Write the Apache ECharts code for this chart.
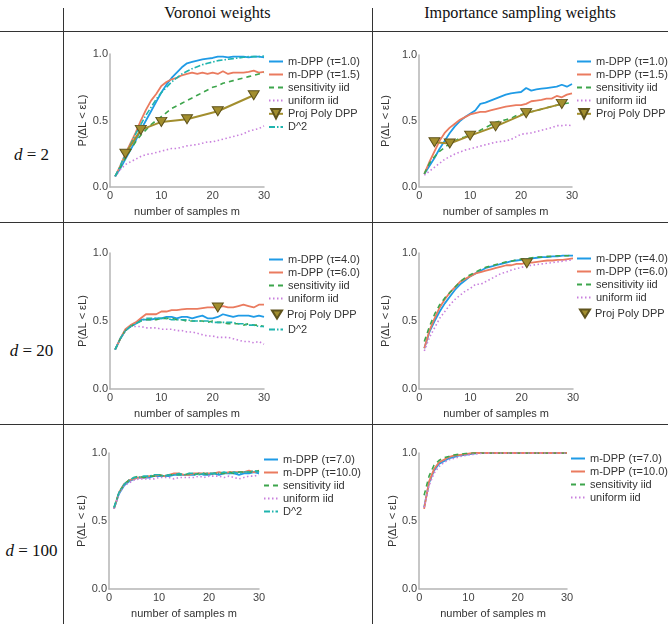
<!DOCTYPE html>
<html>
<head>
<meta charset="utf-8">
<script src="https://cdn.jsdelivr.net/npm/echarts@6/dist/echarts.min.js"></script>
<style>
  body { margin: 0; background: #fff; }
  #page { position: relative; width: 668px; height: 624px; font-family: 'Liberation Serif', serif; color: #111; }
  .hline { position: absolute; left: 0; width: 668px; height: 1px; background: #333; }
  .vline { position: absolute; top: 8px; width: 1px; height: 616px; background: #333; }
  .head { position: absolute; top: 4px; font-size: 16.2px; text-align: center; }
  .dlab { position: absolute; left: 0; width: 63px; text-align: center; font-size: 17px; }
  .chart { position: absolute; }
</style>
</head>
<body>
<div id="page">
  <div class="head" style="left:63px;width:309px">Voronoi weights</div>
  <div class="head" style="left:372px;width:296px">Importance sampling weights</div>
  <div class="hline" style="top:31px"></div>
  <div class="hline" style="top:222px"></div>
  <div class="hline" style="top:424px"></div>
  <div class="vline" style="left:63px"></div>
  <div class="vline" style="left:372px"></div>
  <div class="dlab" style="top:145px"><i>d</i> = 2</div>
  <div class="dlab" style="top:341px"><i>d</i> = 20</div>
  <div class="dlab" style="top:541px"><i>d</i> = 100</div>

  <div class="chart" id="vor2" style="left:63px;top:32px;width:309px;height:190px"></div>
  <div class="chart" id="is2" style="left:372px;top:32px;width:296px;height:190px"></div>
  <div class="chart" id="vor20" style="left:63px;top:222px;width:309px;height:202px"></div>
  <div class="chart" id="is20" style="left:372px;top:222px;width:296px;height:202px"></div>
  <div class="chart" id="vor100" style="left:63px;top:424px;width:309px;height:200px"></div>
  <div class="chart" id="is100" style="left:372px;top:424px;width:296px;height:200px"></div>
</div>

<script>
// number of samples m, shared by every curve
const samples = [1,2,3,4,5,6,7,8,9,10,11,12,13,14,15,16,17,18,19,20,21,22,23,24,25,26,27,28,29,30];
const projSamples = [3, 6, 10, 15, 21, 28];
const yTicks = ['0.0', '0.5', '1.0'];

// d = 2, Voronoi weights
const vor2Tau1 = [0.08,0.14,0.21,0.28,0.35,0.43,0.50,0.57,0.64,0.71,0.77,0.82,0.86,0.90,0.93,0.94,0.95,0.96,0.965,0.97,0.98,0.98,0.975,0.98,0.98,0.98,0.975,0.98,0.98,0.975];
const vor2Tau15 = [0.08,0.16,0.25,0.33,0.41,0.50,0.58,0.65,0.70,0.76,0.79,0.81,0.82,0.84,0.85,0.86,0.85,0.86,0.85,0.86,0.85,0.87,0.85,0.86,0.86,0.86,0.865,0.875,0.86,0.865];
const vor2Sens = [0.08,0.15,0.22,0.28,0.34,0.39,0.43,0.47,0.50,0.53,0.56,0.59,0.61,0.63,0.65,0.67,0.69,0.71,0.73,0.75,0.76,0.78,0.79,0.80,0.81,0.82,0.83,0.84,0.85,0.86];
const vor2Unif = [0.08,0.13,0.17,0.19,0.21,0.23,0.245,0.25,0.26,0.27,0.28,0.29,0.29,0.30,0.31,0.315,0.32,0.33,0.34,0.34,0.35,0.36,0.37,0.38,0.39,0.40,0.42,0.43,0.44,0.46];
const vor2Proj = [0.25,0.43,0.49,0.51,0.57,0.69];
const vor2D2 = [0.08,0.16,0.25,0.32,0.40,0.47,0.54,0.60,0.66,0.71,0.75,0.79,0.82,0.85,0.87,0.89,0.905,0.92,0.93,0.94,0.95,0.955,0.96,0.965,0.97,0.975,0.98,0.98,0.98,0.985];

// d = 2, importance sampling weights
const is2Tau1 = [0.10,0.16,0.22,0.29,0.35,0.41,0.46,0.50,0.53,0.555,0.58,0.63,0.64,0.655,0.67,0.685,0.70,0.71,0.715,0.72,0.75,0.73,0.74,0.745,0.75,0.755,0.76,0.775,0.76,0.78];
const is2Tau15 = [0.10,0.19,0.27,0.35,0.41,0.45,0.48,0.51,0.53,0.55,0.56,0.57,0.57,0.58,0.59,0.60,0.61,0.615,0.62,0.62,0.63,0.65,0.655,0.66,0.67,0.67,0.69,0.68,0.70,0.71];
const is2Sens = [0.10,0.18,0.23,0.27,0.30,0.33,0.35,0.37,0.38,0.40,0.41,0.43,0.45,0.47,0.49,0.50,0.51,0.52,0.54,0.55,0.56,0.57,0.58,0.59,0.60,0.61,0.62,0.63,0.635,0.64];
const is2Unif = [0.09,0.12,0.15,0.18,0.21,0.23,0.25,0.265,0.28,0.29,0.30,0.31,0.32,0.33,0.34,0.345,0.35,0.36,0.38,0.40,0.405,0.41,0.42,0.43,0.44,0.45,0.465,0.465,0.47,0.465];
const is2Proj = [0.34,0.33,0.39,0.46,0.56,0.63];

// d = 20, Voronoi weights
const vor20Tau4 = [0.29,0.37,0.43,0.46,0.48,0.51,0.51,0.51,0.52,0.52,0.53,0.53,0.52,0.53,0.53,0.52,0.53,0.54,0.52,0.52,0.53,0.55,0.54,0.53,0.54,0.54,0.54,0.53,0.54,0.53];
const vor20Tau6 = [0.29,0.37,0.44,0.47,0.49,0.52,0.55,0.55,0.55,0.57,0.57,0.58,0.58,0.585,0.59,0.59,0.59,0.595,0.60,0.60,0.60,0.61,0.60,0.60,0.61,0.62,0.61,0.60,0.62,0.62];
const vor20Sens = [0.29,0.37,0.43,0.46,0.48,0.50,0.51,0.51,0.51,0.52,0.52,0.52,0.51,0.51,0.50,0.50,0.50,0.50,0.49,0.50,0.49,0.49,0.48,0.48,0.48,0.47,0.48,0.47,0.47,0.46];
const vor20Unif = [0.29,0.37,0.43,0.46,0.46,0.46,0.45,0.45,0.45,0.44,0.44,0.44,0.43,0.43,0.42,0.42,0.41,0.40,0.39,0.39,0.38,0.38,0.38,0.37,0.36,0.35,0.35,0.34,0.35,0.33];
const vor20Proj = [[21, 0.60]];
const vor20D2 = [0.29,0.37,0.43,0.46,0.48,0.50,0.52,0.52,0.52,0.52,0.52,0.51,0.51,0.51,0.51,0.50,0.50,0.50,0.50,0.49,0.49,0.49,0.49,0.49,0.48,0.48,0.47,0.47,0.46,0.46];

// d = 20, importance sampling weights
const is20Tau4 = [0.30,0.42,0.50,0.57,0.63,0.68,0.73,0.77,0.80,0.83,0.85,0.87,0.89,0.90,0.91,0.92,0.93,0.94,0.945,0.95,0.955,0.96,0.965,0.97,0.97,0.975,0.975,0.98,0.98,0.98];
const is20Tau6 = [0.30,0.43,0.52,0.60,0.66,0.71,0.75,0.79,0.81,0.83,0.85,0.86,0.87,0.88,0.89,0.90,0.91,0.91,0.92,0.92,0.93,0.93,0.935,0.94,0.945,0.945,0.95,0.95,0.955,0.96];
const is20Sens = [0.35,0.46,0.55,0.62,0.67,0.71,0.75,0.79,0.82,0.84,0.86,0.88,0.895,0.905,0.915,0.925,0.935,0.94,0.95,0.955,0.96,0.965,0.97,0.97,0.975,0.975,0.98,0.98,0.98,0.985];
const is20Unif = [0.28,0.38,0.45,0.52,0.57,0.62,0.66,0.69,0.72,0.74,0.77,0.77,0.79,0.81,0.83,0.85,0.86,0.875,0.885,0.895,0.905,0.91,0.915,0.92,0.925,0.93,0.935,0.94,0.945,0.95];
const is20Proj = [[21, 0.925]];

// d = 100, Voronoi weights
const vor100Tau7 = [0.59,0.70,0.76,0.79,0.81,0.82,0.82,0.82,0.83,0.83,0.83,0.83,0.84,0.84,0.84,0.84,0.84,0.85,0.84,0.84,0.85,0.84,0.85,0.85,0.85,0.84,0.85,0.85,0.86,0.85];
const vor100Tau10 = [0.59,0.71,0.77,0.80,0.81,0.82,0.82,0.83,0.83,0.84,0.83,0.84,0.85,0.85,0.84,0.84,0.85,0.85,0.85,0.85,0.85,0.86,0.85,0.86,0.86,0.86,0.86,0.87,0.86,0.87];
const vor100Sens = [0.60,0.71,0.77,0.80,0.82,0.83,0.82,0.83,0.83,0.84,0.83,0.84,0.84,0.84,0.84,0.85,0.84,0.85,0.85,0.84,0.85,0.85,0.85,0.86,0.85,0.86,0.86,0.86,0.86,0.87];
const vor100Unif = [0.59,0.70,0.76,0.78,0.80,0.81,0.81,0.81,0.81,0.82,0.82,0.82,0.81,0.82,0.82,0.82,0.82,0.83,0.82,0.83,0.83,0.83,0.82,0.83,0.82,0.81,0.82,0.83,0.83,0.84];
const vor100D2 = [0.60,0.71,0.77,0.80,0.82,0.82,0.83,0.83,0.84,0.84,0.83,0.84,0.84,0.85,0.84,0.85,0.85,0.84,0.85,0.85,0.85,0.85,0.86,0.85,0.86,0.85,0.86,0.86,0.87,0.86];

// d = 100, importance sampling weights
const is100Tau7 = [0.60,0.78,0.87,0.92,0.94,0.96,0.97,0.98,0.985,0.99,0.995,1,1,1,1,1,1,1,1,1,1,1,1,1,1,1,1,1,1,1];
const is100Tau10 = [0.59,0.79,0.88,0.93,0.95,0.97,0.98,0.985,0.99,0.995,1,1,1,1,1,1,1,1,1,1,1,1,1,1,1,1,1,1,1,1];
const is100Sens = [0.69,0.83,0.91,0.945,0.965,0.975,0.985,0.99,0.995,1,1,1,1,1,1,1,1,1,1,1,1,1,1,1,1,1,1,1,1,1];
const is100Unif = [0.60,0.76,0.85,0.90,0.93,0.95,0.96,0.97,0.98,0.985,0.99,0.995,1,1,1,1,1,1,1,1,1,1,1,1,1,1,1,1,1,1];

const tri = 'path://M0,0L10,0L5,8Z';

const styles = {
  tauA: { color: '#1f9be6', lineStyle: { width: 1.8 } },
  tauB: { color: '#ea7b5f', lineStyle: { width: 1.8 } },
  sens: { color: '#3da54c', lineStyle: { width: 1.6, type: [5, 4] } },
  unif: { color: '#c980dd', lineStyle: { width: 1.6, type: [1.5, 2.5] } },
  d2: { color: '#1fb4ae', lineStyle: { width: 1.6, type: [6, 2, 1.5, 2] } },
  proj: { color: '#a28e2e', lineStyle: { width: 2 } }
};

function curve(name, values, style, xs) {
  xs = xs || samples;
  return {
    name: name,
    type: 'line',
    data: xs.map((m, i) => [m, values[i]]),
    showSymbol: false,
    symbol: 'circle',
    color: style.color,
    lineStyle: Object.assign({ color: style.color }, style.lineStyle),
    z: 2
  };
}

function projLine(values) {
  const s = curve('Proj Poly DPP', values, styles.proj, projSamples);
  s.showSymbol = true;
  s.symbol = tri;
  s.symbolSize = [11, 9];
  s.itemStyle = { color: styles.proj.color, borderColor: '#5f531c', borderWidth: 1 };
  s.z = 3;
  return s;
}

function projPoint(points) {
  return {
    name: 'Proj Poly DPP',
    type: 'scatter',
    data: points,
    symbol: tri,
    symbolSize: [11, 9],
    itemStyle: { color: styles.proj.color, borderColor: '#5f531c', borderWidth: 1, opacity: 1 },
    z: 3
  };
}

const ROW = 14; // legend row pitch

function legendBlock(names, left, top, small) {
  return {
    orient: 'vertical',
    left: left, top: top,
    itemWidth: small ? 10 : 14, itemHeight: small ? 8 : 12, itemGap: 2,
    padding: 0,
    itemStyle: { opacity: small ? 1 : 0 },
    textStyle: { color: '#333', fontSize: 11, fontFamily: 'Liberation Sans' },
    data: names.map(n => n === 'Proj Poly DPP' ? { name: n, itemStyle: { opacity: 1 } } : n)
  };
}

function buildLegends(series, left, top) {
  // a lone scatter marker gets its own small legend so its icon is not stretched
  const legends = [];
  let group = [], start = 0;
  series.forEach((s, i) => {
    if (s.type === 'scatter') {
      if (group.length) legends.push(legendBlock(group, left, top + start * ROW));
      legends.push(legendBlock([s.name], left + 3, top + i * ROW - 1, true));
      group = []; start = i + 1;
    } else {
      group.push(s.name);
    }
  });
  if (group.length) legends.push(legendBlock(group, left, top + start * ROW));
  return legends;
}

function panel(id, grid, legendPos, series) {
  const chart = echarts.init(document.getElementById(id));
  const axisText = { color: '#444', fontSize: 11, fontFamily: 'Liberation Sans' };
  chart.setOption({
    animation: false,
    grid: Object.assign({ containLabel: false }, grid),
    xAxis: {
      type: 'value', min: 0, max: 30, interval: 10,
      name: 'number of samples m', nameLocation: 'middle', nameGap: 18,
      nameTextStyle: { color: '#333', fontSize: 11, fontFamily: 'Liberation Sans' },
      axisLine: { lineStyle: { color: '#b5b5b5', width: 1.5 } },
      axisTick: { show: false },
      splitLine: { show: false },
      axisLabel: Object.assign({ margin: 3 }, axisText)
    },
    yAxis: {
      type: 'value', min: 0, max: 1, interval: 0.5,
      name: 'P(ΔL < εL)', nameLocation: 'middle', nameGap: 12,
      nameTextStyle: { color: '#333', fontSize: 11, fontFamily: 'Liberation Sans' },
      axisLine: { show: true, lineStyle: { color: '#b5b5b5', width: 1.5 } },
      axisTick: { show: false },
      splitLine: { show: false },
      axisLabel: Object.assign({ margin: 2, formatter: v => yTicks[Math.round(v * 2)] }, axisText)
    },
    legend: buildLegends(series, legendPos[0], legendPos[1]),
    series: series
  });
}

panel('vor2', { left: 47, top: 22, width: 154, height: 135 }, [205, 24], [
  curve('m-DPP (τ=1.0)', vor2Tau1, styles.tauA),
  curve('m-DPP (τ=1.5)', vor2Tau15, styles.tauB),
  curve('sensitivity iid', vor2Sens, styles.sens),
  curve('uniform iid', vor2Unif, styles.unif),
  projLine(vor2Proj),
  curve('D^2', vor2D2, styles.d2)
]);

panel('is2', { left: 46, top: 23, width: 154, height: 136 }, [204, 24], [
  curve('m-DPP (τ=1.0)', is2Tau1, styles.tauA),
  curve('m-DPP (τ=1.5)', is2Tau15, styles.tauB),
  curve('sensitivity iid', is2Sens, styles.sens),
  curve('uniform iid', is2Unif, styles.unif),
  projLine(is2Proj)
]);

panel('vor20', { left: 47, top: 31, width: 154, height: 137 }, [205, 32], [
  curve('m-DPP (τ=4.0)', vor20Tau4, styles.tauA),
  curve('m-DPP (τ=6.0)', vor20Tau6, styles.tauB),
  curve('sensitivity iid', vor20Sens, styles.sens),
  curve('uniform iid', vor20Unif, styles.unif),
  projPoint(vor20Proj),
  curve('D^2', vor20D2, styles.d2)
]);

panel('is20', { left: 46, top: 31, width: 155, height: 137 }, [204, 31], [
  curve('m-DPP (τ=4.0)', is20Tau4, styles.tauA),
  curve('m-DPP (τ=6.0)', is20Tau6, styles.tauB),
  curve('sensitivity iid', is20Sens, styles.sens),
  curve('uniform iid', is20Unif, styles.unif),
  projPoint(is20Proj)
]);

panel('vor100', { left: 46, top: 29, width: 150, height: 138 }, [200, 30], [
  curve('m-DPP (τ=7.0)', vor100Tau7, styles.tauA),
  curve('m-DPP (τ=10.0)', vor100Tau10, styles.tauB),
  curve('sensitivity iid', vor100Sens, styles.sens),
  curve('uniform iid', vor100Unif, styles.unif),
  curve('D^2', vor100D2, styles.d2)
]);

panel('is100', { left: 46, top: 29, width: 149, height: 137 }, [198, 29], [
  curve('m-DPP (τ=7.0)', is100Tau7, styles.tauA),
  curve('m-DPP (τ=10.0)', is100Tau10, styles.tauB),
  curve('sensitivity iid', is100Sens, styles.sens),
  curve('uniform iid', is100Unif, styles.unif)
]);
</script>
</body>
</html>
